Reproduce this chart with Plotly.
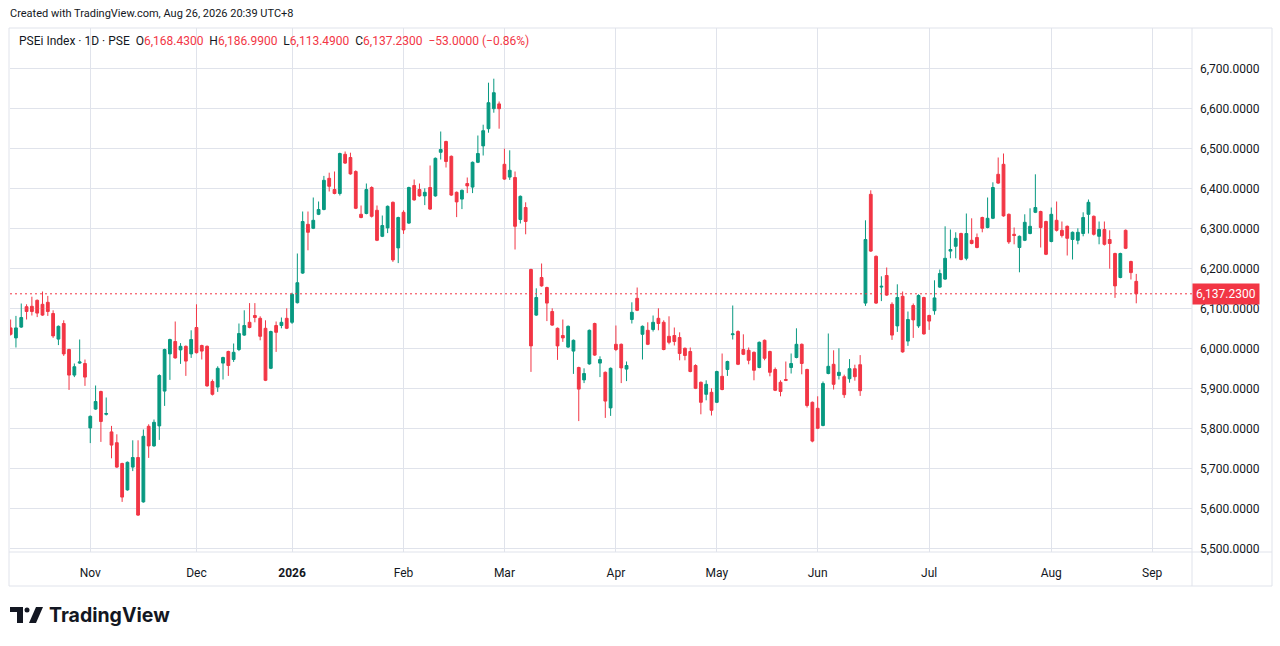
import plotly.graph_objects as go

# PSEi Index, daily sessions from mid Oct 2025 to 26 Aug 2026 (one value per trading day)
open_ = [
    6052, 6027, 6054, 6105, 6106, 6121, 6111, 6116, 6088, 6024, 6063, 5998, 5934, 5964, 5963,
    5802, 5849, 5893, 5836, 5792, 5765, 5713, 5647, 5704, 5728, 5617, 5806, 5757, 5807, 5894,
    5987, 6018, 5997, 6006, 5987,
    6053, 6008, 6006, 5918, 5904, 5964, 5993, 5973, 5998, 6034, 6066, 6083, 6076, 6051, 5951,
    6058, 6058, 6076,
    6066, 6115, 6189, 6311, 6301, 6336, 6348, 6426, 6398, 6388, 6486, 6478, 6443, 6336, 6338,
    6403, 6346, 6281, 6302, 6366, 6252,
    6341, 6314, 6408, 6398, 6382, 6403, 6382, 6491, 6518, 6481, 6391, 6374, 6413, 6404, 6466,
    6507, 6550, 6600, 6612,
    6461, 6429, 6428, 6323, 6353, 6198, 6084, 6178, 6153, 6093, 6051, 6033, 6004, 5994, 5953,
    5922, 5962, 6063, 5964, 5941, 5852,
    6011, 6011, 5949, 6073, 6126, 6036, 6046, 6048, 6076, 6066, 6031, 6033, 6028, 6001, 5993,
    5958, 5916, 5886, 5891,
    5866, 5931, 5948, 6035, 6043, 5998, 5996, 5991, 5953, 6021, 5993, 5948, 5916, 5923, 5953,
    5978, 6011, 5948, 5866,
    5851, 5808, 5938, 5961, 5933, 5930, 5925, 5950, 5960, 6114, 6386, 6231, 6154, 6183, 6111,
    6057, 6131, 6019, 6108, 6057, 6128,
    6083, 6095, 6154, 6174, 6244, 6256, 6288, 6226, 6271, 6278, 6328, 6303, 6326, 6436, 6461,
    6336, 6286, 6253, 6271, 6288, 6341, 6343, 6318,
    6268, 6321, 6296, 6306, 6273, 6271, 6288, 6336, 6331, 6281, 6298, 6273, 6238, 6178, 6296,
    6218, 6168.43,
]
high = [
    6073, 6082, 6113, 6111, 6130, 6123, 6143, 6132, 6096, 6058, 6071, 6000, 5963, 6023, 5973,
    5833, 5908, 5895, 5878, 5807, 5786, 5715, 5718, 5771, 5771, 5798, 5811, 5823, 5936, 6000,
    6025, 6068, 6014, 6008, 6046,
    6111, 6010, 6008, 5923, 5956, 5980, 5995, 6013, 6063, 6096, 6114, 6114, 6081, 6071, 6045,
    6068, 6078, 6101,
    6140, 6238, 6343, 6343, 6378, 6368, 6432, 6440, 6443, 6490, 6493, 6490, 6446, 6358, 6413,
    6406, 6358, 6333, 6358, 6368, 6330,
    6346, 6405, 6423, 6413, 6401, 6458, 6478, 6543, 6520, 6483, 6393, 6398, 6428, 6468, 6533,
    6560, 6665, 6675, 6618,
    6500, 6496, 6443, 6383, 6366, 6200, 6151, 6213, 6155, 6101, 6053, 6073, 6058, 6023, 5955,
    5951, 6048, 6065, 5981, 5943, 5953,
    6058, 6013, 5968, 6116, 6153, 6058, 6066, 6083, 6101, 6071, 6081, 6053, 6041, 6003, 6003,
    5961, 5918, 5921, 5901,
    5945, 5988, 5970, 6108, 6046, 6036, 6003, 5993, 6018, 6023, 5995, 5953, 5921, 5968, 5988,
    6051, 6013, 5950, 5868,
    5881, 5918, 6038, 5996, 6001, 5935, 5974, 5960, 5984, 6321, 6396, 6233, 6181, 6203, 6116,
    6161, 6143, 6093, 6113, 6136, 6130,
    6085, 6171, 6198, 6306, 6298, 6291, 6290, 6338, 6326, 6288, 6330, 6378, 6416, 6478, 6488,
    6338, 6303, 6283, 6336, 6351, 6436, 6345, 6320,
    6353, 6368, 6318, 6308, 6293, 6301, 6341, 6373, 6333, 6318, 6318, 6296, 6240, 6240, 6298,
    6220, 6186.99,
]
low = [
    6033, 6003, 6052, 6073, 6083, 6079, 6082, 6082, 6027, 6009, 5982, 5897, 5929, 5962, 5907,
    5764, 5847, 5767, 5833, 5726, 5702, 5617, 5645, 5694, 5582, 5615, 5727, 5755, 5772, 5857,
    5922, 5975, 5962, 5932, 5977,
    5988, 5973, 5905, 5883, 5892, 5923, 5932, 5967, 5994, 6032, 6051, 6066, 6021, 5919, 5949,
    5992, 6051, 6049,
    6062, 6113, 6187, 6246, 6299, 6334, 6346, 6393, 6386, 6383, 6462, 6435, 6349, 6326, 6336,
    6328, 6269, 6279, 6289, 6217, 6214,
    6287, 6312, 6370, 6380, 6359, 6347, 6380, 6473, 6453, 6382, 6329, 6349, 6389, 6389, 6464,
    6483, 6540, 6590, 6550,
    6422, 6422, 6248, 6313, 6286, 5942, 6082, 6155, 6069, 6057, 5972, 6017, 6002, 5937, 5819,
    5914, 5960, 5982, 5929, 5827, 5832,
    5994, 5914, 5919, 6063, 6094, 5973, 6009, 6043, 6046, 5996, 6011, 6008, 5971, 5971, 5941,
    5899, 5836, 5871, 5833,
    5864, 5896, 5932, 6023, 5959, 5984, 5961, 5921, 5951, 5971, 5931, 5894, 5881, 5919, 5938,
    5976, 5936, 5853, 5766,
    5799, 5806, 5936, 5898, 5923, 5877, 5915, 5920, 5882, 6107, 6242, 6112, 6119, 6132, 6022,
    6042, 5990, 6007, 6027, 6052, 6035,
    6047, 6085, 6152, 6172, 6226, 6226, 6221, 6221, 6261, 6251, 6291, 6301, 6324, 6412, 6330,
    6262, 6261, 6191, 6269, 6286, 6339, 6253, 6234,
    6266, 6293, 6278, 6233, 6223, 6261, 6281, 6288, 6283, 6261, 6258, 6200, 6127, 6176, 6249,
    6173, 6113.49,
]
close = [
    6036, 6052, 6078, 6093, 6093, 6089, 6084, 6093, 6032, 6056, 5987, 5934, 5955, 5967, 5929,
    5831, 5868, 5818, 5838, 5759, 5704, 5629, 5716, 5728, 5584, 5781, 5757, 5816, 5933, 5998,
    6023, 5977, 6006, 5969, 6023,
    5990, 5994, 5907, 5886, 5951, 5978, 5958, 5991, 6038, 6058, 6053, 6078, 6031, 5921, 6043,
    6041, 6066, 6051,
    6136, 6165, 6318, 6291, 6321, 6348, 6421, 6406, 6388, 6488, 6464, 6437, 6351, 6328, 6398,
    6331, 6271, 6308, 6356, 6222, 6328,
    6297, 6403, 6372, 6382, 6391, 6349, 6476, 6498, 6468, 6384, 6367, 6396, 6407, 6466, 6488,
    6545, 6615, 6640, 6600,
    6424, 6446, 6306, 6381, 6318, 6007, 6128, 6157, 6114, 6059, 6007, 6027, 6056, 6021, 5899,
    5938, 6046, 5984, 5973, 5869, 5951,
    5998, 5952, 5958, 6091, 6096, 6056, 6011, 6066, 6063, 5998, 6016, 6018, 5988, 5983, 5943,
    5901, 5866, 5911, 5846,
    5943, 5898, 5968, 6037, 5961, 5986, 5971, 5946, 6016, 5976, 5941, 5896, 5893, 5921, 5963,
    6011, 5963, 5858, 5769,
    5801, 5913, 5956, 5911, 5941, 5885, 5950, 5930, 5895, 6273, 6244, 6114, 6156, 6134, 6034,
    6128, 5992, 6073, 6072, 6133, 6037,
    6069, 6127, 6188, 6226, 6248, 6276, 6223, 6288, 6263, 6253, 6301, 6326, 6403, 6414, 6332,
    6267, 6283, 6281, 6316, 6306, 6353, 6303, 6236,
    6336, 6296, 6283, 6276, 6291, 6291, 6328, 6366, 6286, 6298, 6261, 6263, 6157, 6238, 6251,
    6190.23, 6137.23,
]
bars = list(range(len(close)))

# first session of every month (bar index) and its label
month_start = [15, 35, 53, 74, 93, 114, 133, 152, 173, 196, 215]
month_labels = ["Nov", "Dec", "<b>2026</b>", "Feb", "Mar", "Apr", "May", "Jun", "Jul", "Aug", "Sep"]

price_ticks = list(range(5500, 6800, 100))

GREEN = "#089981"
RED = "#F23645"
TEXT = "#131722"
GRID = "#e0e3eb"

# plot box in page pixels
L, R, T, B = 10, 1192, 28, 552


def px(x):
    return (x - L) / (R - L)


def py(y):
    return (B - y) / (B - T)


fig = go.Figure()
fig.add_trace(go.Candlestick(
    x=bars, open=open_, high=high, low=low, close=close,
    increasing=dict(line=dict(color=GREEN, width=1), fillcolor=GREEN),
    decreasing=dict(line=dict(color=RED, width=1), fillcolor=RED),
    whiskerwidth=0, hoverinfo="skip", showlegend=False,
))

last = close[-1]
prev = close[-2]
chg = last - prev
pct = chg / prev * 100

shapes = [
    # last price dotted line
    dict(type="line", xref="paper", yref="y", x0=0, x1=1, y0=last, y1=last,
         line=dict(color=RED, width=1, dash="2px,3px")),
    # frame and axis separators
    dict(type="rect", xref="paper", yref="paper", x0=px(9), x1=px(1272), y0=py(586), y1=py(28),
         line=dict(color=GRID, width=1), layer="below"),
    dict(type="line", xref="paper", yref="paper", x0=px(1192), x1=px(1192), y0=py(586), y1=py(28),
         line=dict(color=GRID, width=1), layer="below"),
    dict(type="line", xref="paper", yref="paper", x0=px(9), x1=px(1272), y0=py(552), y1=py(552),
         line=dict(color=GRID, width=1), layer="below"),
    # TradingView logo mark
    dict(type="path", xref="paper", yref="paper",
         path=f"M {px(10)},{py(607)} L {px(23)},{py(607)} L {px(23)},{py(623)} L {px(17)},{py(623)} "
              f"L {px(17)},{py(612)} L {px(10)},{py(612)} Z",
         fillcolor=TEXT, line=dict(width=0)),
    dict(type="circle", xref="paper", yref="paper", x0=px(24.5), x1=px(29.5), y0=py(612.5), y1=py(607.5),
         fillcolor=TEXT, line=dict(width=0)),
    dict(type="path", xref="paper", yref="paper",
         path=f"M {px(36)},{py(607)} L {px(43)},{py(607)} L {px(36)},{py(623)} L {px(29)},{py(623)} Z",
         fillcolor=TEXT, line=dict(width=0)),
]

red = lambda s: f"<span style='color:{RED}'>{s}</span>"
header = (
    "PSEi Index · 1D · PSE  "
    f"O{red(f'{open_[-1]:,.4f}')}  H{red(f'{high[-1]:,.4f}')}  "
    f"L{red(f'{low[-1]:,.4f}')}  C{red(f'{last:,.4f}')}  "
    + red(f"{chg:+.4f} ({pct:+.2f}%)".replace("-", "−"))
)

annotations = [
    dict(xref="paper", yref="paper", x=px(8), y=py(14), xanchor="left", yanchor="middle",
         text="Created with TradingView.com, Aug 26, 2026 20:39 UTC+8", showarrow=False,
         font=dict(size=11, color=TEXT)),
    dict(xref="paper", yref="paper", x=px(17), y=py(41), xanchor="left", yanchor="middle",
         text=header, showarrow=False, font=dict(size=12, color=TEXT)),
    dict(xref="paper", yref="y", x=1, y=last, xanchor="left", yanchor="middle",
         text=f"{last:,.4f}", showarrow=False, bgcolor=RED, borderpad=3,
         font=dict(size=12, color="white")),
    dict(xref="paper", yref="paper", x=px(47), y=py(615), xanchor="left", yanchor="middle",
         text="<b>TradingView</b>", showarrow=False, font=dict(size=19.5, color=TEXT, family="Inter")),
]

fig.update_layout(
    width=1280, height=646,
    margin=dict(l=L, r=1280 - R, t=T, b=646 - B),
    paper_bgcolor="white", plot_bgcolor="white",
    font=dict(family="Roboto", size=12, color=TEXT),
    boxgap=0.25,
    shapes=shapes, annotations=annotations,
    xaxis=dict(range=[-0.12, 222.5], tickvals=month_start, ticktext=month_labels,
               showgrid=True, gridcolor=GRID, gridwidth=1, zeroline=False,
               rangeslider=dict(visible=False), ticks="", ticklabelstandoff=12,
               tickfont=dict(size=12, color=TEXT)),
    yaxis=dict(range=[5491.75, 6801.75], side="right", tickvals=price_ticks,
               tickformat=",.4f", showgrid=True, gridcolor=GRID, gridwidth=1,
               zeroline=False, ticks="", ticklabelstandoff=7,
               tickfont=dict(size=12, color=TEXT)),
)

fig.write_html("out.html", config={"displayModeBar": False},
               post_script="document.body.style.margin='0';document.body.style.overflow='hidden';")
